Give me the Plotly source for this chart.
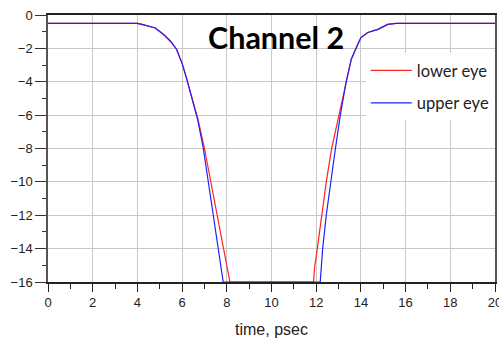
import plotly.graph_objects as go

# Data (time in psec, amplitude)
upper_t = [0, 4, 4.2, 4.8, 5.2, 5.5, 5.75, 6.0, 6.2, 6.45, 6.7, 6.95, 7.17, 7.39, 7.62, 7.84,
           12.18, 12.29, 12.45, 12.64, 12.86, 13.08, 13.34, 13.57, 13.79, 14.0, 14.31, 14.76, 15.2, 15.58, 20]
upper_v = [-0.5, -0.5, -0.56, -0.78, -1.2, -1.6, -2.05, -2.9, -3.8, -5.0, -6.3, -8, -10, -12, -14, -16,
           -16, -14, -12, -10, -8, -6, -4, -2.65, -1.95, -1.35, -1.05, -0.86, -0.56, -0.5, -0.5]

lower_t = [0, 4, 4.2, 4.8, 5.2, 5.5, 5.75, 6.0, 6.2, 6.45, 6.72, 7.0, 7.28, 7.58, 7.87, 8.14,
           11.88, 11.93, 12.05, 12.24, 12.45, 12.69, 13.02, 13.33, 13.57, 13.79, 14.0, 14.31, 14.76, 15.2, 15.58, 20]
lower_v = [-0.5, -0.5, -0.56, -0.78, -1.2, -1.6, -2.05, -2.9, -3.8, -5.0, -6.3, -8, -10, -12, -14, -16,
           -16, -15.1, -14, -12, -10, -8, -6, -4, -2.65, -1.95, -1.35, -1.05, -0.86, -0.56, -0.5, -0.5]

title_text = "Channel 2"
x_title = "time, psec"

fig = go.Figure()
fig.add_trace(go.Scatter(x=lower_t, y=lower_v, mode="lines", name="lower eye",
                         line=dict(color="#ff2020", width=1.2), legendgroup="a"))
fig.add_trace(go.Scatter(x=upper_t, y=upper_v, mode="lines", name="upper eye",
                         line=dict(color="#2020ff", width=1.2), legendgroup="b"))

fig.update_layout(
    width=499, height=341,
    margin=dict(l=48, r=4, t=15, b=59, autoexpand=False),
    paper_bgcolor="white", plot_bgcolor="white",
    font=dict(family="Liberation Sans, Arial, sans-serif", size=13, color="#222"),
    showlegend=True,
    legend=dict(x=0.711, y=0.857, xanchor="left", yanchor="top",
                bgcolor="white", borderwidth=0, itemwidth=41,
                font=dict(family="Lato, sans-serif", size=16.5, color="#222"),
                tracegroupgap=8, traceorder="grouped"),
    annotations=[dict(text="<b>" + title_text + "</b>", x=0.511, y=0.919,
                      xref="paper", yref="paper", showarrow=False,
                      xanchor="center", yanchor="middle",
                      font=dict(family="Lato, sans-serif", size=30.5, color="black"))],
)

fig.update_xaxes(range=[0, 20], dtick=2, tick0=0, automargin=False,
                 showgrid=True, gridcolor="#c8c8c8", gridwidth=1,
                 showline=True, linecolor="#222", linewidth=1.5, mirror=True,
                 ticks="outside", ticklen=8, tickcolor="#222",
                 ticklabeloverflow="allow",
                 minor=dict(dtick=1, ticks="outside", ticklen=5, tickcolor="#222", showgrid=False),
                 zeroline=False,
                 title=dict(text=x_title, font=dict(size=16), standoff=14))
fig.update_yaxes(range=[-16, 0], dtick=2, tick0=0, automargin=False,
                 showgrid=True, gridcolor="#c8c8c8", gridwidth=1,
                 showline=True, linecolor="#555", linewidth=1.5, mirror=True,
                 ticks="outside", ticklen=11, tickcolor="#333",
                 minor=dict(dtick=1, ticks="outside", ticklen=4, tickcolor="#333", showgrid=False),
                 zeroline=False)

fig.write_html("out.html")
